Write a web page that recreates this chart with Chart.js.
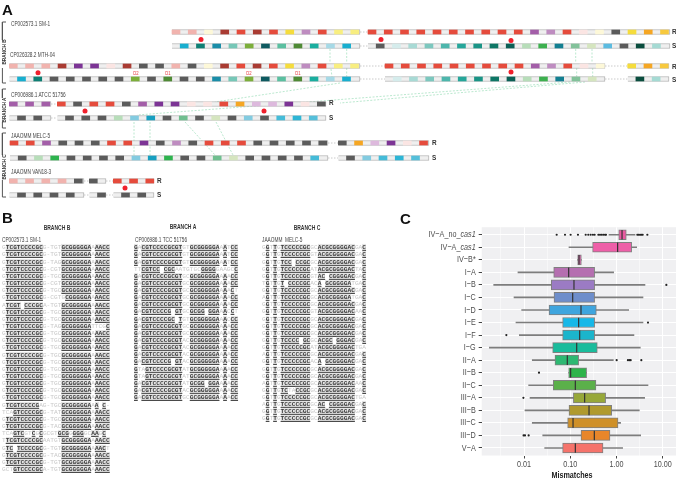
<!DOCTYPE html>
<html>
<head>
<meta charset="utf-8">
<script src="https://cdn.jsdelivr.net/npm/chart.js@4/dist/chart.umd.js"></script>
<style>
  html, body { margin: 0; padding: 0; background: #fff; width: 676px; height: 479px; overflow: hidden; }
  canvas { position: absolute; display: block; }
  #trackChart { left: 0; top: 0; }
  #boxChart { left: 400px; top: 210px; }
  .t { position: absolute; white-space: pre; font-family: "Liberation Sans", sans-serif; color: #333; transform-origin: 0 50%; transform: translateY(-50%); line-height: 1; }
  .panel { font: bold 15px "Liberation Sans", sans-serif; color: #111; }
  .name { font-size: 7px; color: #444; transform: translateY(-50%) scaleX(.68); }
  .rs { font-size: 8px; font-weight: bold; color: #333; transform: translateY(-50%) scaleX(.8); }
  .domain { font-size: 6px; color: #e8343a; transform-origin: 50% 50%; transform: translate(-50%, -50%) scaleX(.7); }
  .branch { font-size: 6.2px; font-weight: bold; color: #333; transform-origin: 50% 50%; transform: translate(-50%, -50%) rotate(-90deg) scaleX(.76); }
  .head { font-size: 6.6px; font-weight: bold; color: #333; transform-origin: 50% 50%; transform: translate(-50%, -50%) scaleX(.76); }
  .seq { font-family: "Liberation Mono", monospace; font-size: 6.2px; color: #c8c8c8; }
  .seq b { color: #3a3a3a; text-decoration: underline; background: #e4e4e4; }
</style>
</head>
<body>
<canvas id="trackChart" width="676" height="205"></canvas>
<canvas id="boxChart" width="276" height="269"></canvas>
<script>
// panel C values
const rowNames = ['IV−A_no_cas1', 'IV−A_cas1', 'IV−B*', 'I−A', 'I−B', 'I−C', 'I−D', 'I−E', 'I−F', 'I−G', 'II−A', 'II−B', 'II−C', 'III−A', 'III−B', 'III−C', 'III−D', 'V−A']
const whiskerLow = [0.69, 0.094, 0.145, 0.0074, 0.00221, 0.00608, 0.0089, 0.0067, 0.00793, 0.00178, 0.0151, 0.0925, 0.0126, 0.0135, 0.0105, 0.0151, 0.0254, 0.028]
const quartile1 = [1.12, 0.305, 0.145, 0.0439, 0.039, 0.0446, 0.0348, 0.0685, 0.0685, 0.0417, 0.0468, 0.0925, 0.043, 0.117, 0.094, 0.0879, 0.171, 0.0685]
const medians = [1.32, 1.06, 0.155, 0.0925, 0.1205, 0.113, 0.171, 0.152, 0.16, 0.138, 0.0865, 0.102, 0.129, 0.205, 0.255, 0.115, 0.332, 0.129]
const quartile3 = [1.63, 2.13, 0.174, 0.337, 0.337, 0.337, 0.367, 0.337, 0.337, 0.385, 0.152, 0.226, 0.36, 0.583, 0.787, 1.08, 0.724, 0.512]
const whiskerHigh = [2.52, 2.74, 0.174, 0.869, 4.14, 3.75, 1.84, 3.75, 2.39, 3.28, 0.855, 0.226, 4.81, 4.07, 3.12, 1.23, 3.34, 1.36]
const outlierRows = [0, 0, 0, 0, 0, 0, 0, 0, 0, 0, 0, 0, 0, 0, 0, 0, 0, 0, 0, 0, 0, 4, 7, 8, 10, 10, 10, 10, 10, 11, 13, 16, 16, 16]
const outlierValues = [0.0509, 0.0771, 0.102, 0.147, 0.216, 0.246, 0.277, 0.31, 0.337, 0.406, 0.441, 0.479, 0.52, 0.565, 0.594, 2.83, 3.02, 3.23, 3.45, 3.69, 4.66, 12, 4.81, 0.00415, 1.01, 1.77, 1.9, 2.03, 3.45, 0.0211, 0.0097, 0.0098, 0.0105, 0.0126]
const majorTicks = [0.01, 0.1, 1, 10]
const minorTicks = [0.00316, 0.0316, 0.316, 3.16]

// panel A values, cells as type codes along each genome track
const smR = ['ppcbrbrylrhh', 'rrrrrrrrrrmlrncdyog']
const smS = ['CTUAGDMKEBC', 'd12345678PLVJWNdZX']
const mthR = ['pppbvvnbddpdcbrbrylrhh', 'rrrrrrrrrmlrnc', 'yog']
const mthS = ['CTdddddGdKddUAGDMKEBC', '12345678PLVJW', 'ZX']
const atccR = ['mmm', 'rdrrdmvvnnroqqvnd']
const atccS = ['dd', 'dddPQFdHdWdQdORS']
const melcR = ['rrmdddrrvdldrrrddddd', 'doqvnr']
const melcS = ['dPYddddQFYddHWddddO', 'dQORS']
const vanR = ['ppppd', 'd', 'rrr']
const vanS = ['dddd', 'd', 'dd']
const smStarts = [172, 368]
const smEnds = [360, 670]
const mthStarts = [9.3, 385, 627.7]
const mthEnds = [360, 605, 669]
const atccStarts = [9.3, 57.3]
const atccEnds = [51, 326]
const melcStarts = [10, 338.3]
const melcEnds = [328, 429]
const vanStarts = [9.3, 89.3, 113.3]
const vanEnds = [84, 106, 154]
const spacerX = [201, 381, 511, 38, 511, 85, 264, 125]
const spacerY = [39.5, 39.5, 40.5, 72.7, 72, 111, 111, 188]
const linkFrom = [[330, 49], [331, 69], [346.7, 49], [346.7, 68], [575.7, 49], [592, 49], [576.7, 68], [592.7, 68], [585, 82], [570, 82], [340, 83], [134, 122], [150, 122], [185, 122], [216, 122]]
const linkTo = [[330, 63], [332, 77], [346.7, 63], [346.7, 78], [575.7, 63], [592, 63], [576.7, 77], [592.7, 77], [340, 103], [137, 115], [215, 102], [134, 156], [150, 156], [215, 155], [233, 155]]

// panel B alignments, upper case marks conserved bases
const branchB = [
  'gTCGTCCCCGCg-tgtGCGGGGGAaAACC', 'gTCGTCCCCGCg-tgtGCGGGGGAaAACC', 'gTCGTCCCCGCg-tagGCGGGGGAaAACC', 'gTCGTCCCCGCg-cgtGCGGGGGAaAACC',
  'gTCGTCCCCGCg-tgcGCGGGGGAaAACC', 'gTCGTCCCCGCg-cgtGCGGGGGAaAACC', 'gTCGTCCCCGCg-tgcGCGGGGGAaAACC', 'gTCGTCCCCGCg-cgtgCGGGGGAaAACC',
  'aTCGT CCCGCa-tgtGCGGGGGAaAACC', 'gTCGTCCCCGCg-tgcGCGGGGGAaAACC', 'gTCGTCCCCGCg-tgcGCGGGGGAaAACC', 'tTCGTCCCCGCg-tagGCGGGGGAttcgC',
  'gTCGTCCCCGCg-tgcGCGGGGGAaAACC', 'gTCGTCCCCGCg-tgcGCGGGGGAaAACC', 'gTCGTCCCCGCg-tgcGCGGGGGAaAACC', 'gTCGTCCCCGCg-tgcGCGGGGGAaAACC',
  'gTCGTCCCCGCg-tgcGCGGGGGAaAACC', 'gTCGTCCCCGCg-tgcGCGGGGGAaAACC', 'gTCGTCCCCGCg-tgcGCGGGGGAaAACC', 'gTCGTCCCCGCg-tgcGCGGGGGAaAACC',
  'gTCGTCCCCGCg-tgcGCGGGGGAaAACC', 'gTCGTCCCCGCg-tgcGCGGGGGAaAACC', 'gTCGTCCCCGag-tgcGCGGGGGAaA C-', 'tcaGTCCCCGCg-tatGCGGGGGAaAACC',
  'gTCGTCCCCGCg-tgcGCGGGGGAaAACC', 'gTCGTCCCCGCg-tacGCGGGGGAaAACC', 'tcaGTCgtCgCgcgtGCGgGGGgcAAgC ', 'tTCGTCCCCGCaatgtGCGGGGGAaAACC',
  'gTC TCCCCGCg-tgtGCGGGGGAaAACt', 'gTCGTCCCCGCg-tacGCGGGGGAaAACC', 'gTCGTCCCCGCg-tgtGCGGGGGAaAACC', 'gctGTCCCCGCa-tgtGCGGGGGAaAACC'
]
const branchA = [
  'GaCGTCCCCGCGTgtGCGGGGGAaAtCC', 'GaCGTCCCCGCGTgtGCGGGGGAaAtCC', 'GaCGTCCCCGCGTgtGCGGGGGAaAtCC', 'ttCGTCC CGCaatgtgcGGGGgaagcC',
  'GaCGTCCCCGCGTgcGCGGGGGAaAaCC', 'GaCGTCCCCGCGTgcGCGGGGGAaAaCC', 'GaCGTCCCCGCGTgcGCGGGGGAaAaCt', 'GaCGTCCCCGCGTgcGCGGGGGAaAaCC',
  'GaCGTCCCCGCGTgcGCGGGGGAaAaCC', 'GaCGTCCCCG GTgcGCGG GGAaAcCt', 'GaCGTCCCCGC TgtGCGGGGGAaAcCC', 'GaCGTCCCCGCGTgcGCGGGGGAaAaCC',
  'GaCGTCCCCGCGTgcGCGGGGGAaAaCC', 'GaCGTCCCCGCGTacGCGGGGGAaAaCC', 'GaCGTCCCCGCGTacGCGGGGGAaAaCC', 'GaCGTCCCCGCGTacGCGGGGGAaAaCC',
  'GaCGTCCCCG GTacGCGGGGGAaAaCC', 'GtaGTCCCCGCGTatGCGGGGGAaAaCC', 'GtaGTCCCCGCGTatGCGGGGGAaAaCC', 'GaCGTCCCCGCGTatGCGG GGAaAaCC',
  'GaCGTCCCCGCGTacGCGGGGGAaAaCC', 'GaCGTCCCCGCGTgcGCGGGGGAaAaCC'
]
const branchC = [
  'gGtTgTCCCCCGCgcACGCGGGGACgaC', 'gGtTgTCCCCCGCgtACGCGGGGACgaC', 'gGtTgTCC CCGCgcACGCGGGGACgaC', 'gGtTgTCCCCCGCatACGCGGGGACtaC',
  'gGtTgTCCCCCGCgtAC CGGGGACgaC', 'tGtTgT CCCCGCacA GCGGGGAtgaC', 'gGtTgTCCCCCGCgcACGCGGGGACgaC', 'aGtTgTCCCCCGCgcACGCGGGGAtgaC',
  'gGtTgTCCCCCGCgcACGCGGGGACgaC', 'gGtTgTCCCCCGCgtACGCGGGGACaaC', 'gGtTgTCCCCCGCgcACGCGGGGACgaC', 'gGtTgTCCCCCGCgcACGCGGGGACgaC',
  'gGtTgTCCCCCGCgcACGCGGGGACgaC', 'gGtTgTCCCC GCgcACGC GGGACgaC', 'gGtTgTCCCCCGCatACGCGGGGACtga', 'aGtTgTCCCCCGCgcACGCGGGGACgaC',
  'gGtTgTCCCCCGCacA GCGGGGACgaC', 'gGtTgTCCCCCGCgcACGCGGGGACgaC', 'gGtTgTCCCCCGCgcACGCGGGGACgaC', 'aGtTgTCCCCCGCgcACGCGGGGACaaC',
  'gGtTgTCtaCCGCgcACGCGGGGACgaC', 'gGtTgTCCCCCGCgcACGCGGGGACtga', 'aGtTgTCCCCCGCgcAC CGGGGACgaC', 'gGtTgTCCCCCGCgcACGCGGGGACgaC',
  'gGtTgTCCCCCGCgcACGCGGGGACgaC'
]

const BOX_COLORS = ['#ea5aa2', '#ee5fa8', '#d96bb0', '#b56fb0', '#9b7bc4', '#6e8ecb', '#3fa5de', '#17b8e8', '#1bb5cc', '#1abc9c', '#2eb872', '#2db34a', '#5bb04a', '#97a83a', '#b09a2e', '#cf9028', '#e8862a', '#f5736b']
const CELL_COLORS = {
  p: '#f1b3ae', c: '#fdf8d8', b: '#a93b32', r: '#e54b3c', y: '#f5dc3c', l: '#be8cc0', h: '#f8ee80', m: '#a35ea8', n: '#fbe5e3', d: '#5b5b5b', o: '#f5a623', g: '#f7c93e', v: '#7c3495', q: '#ddb9dd',
  C: '#18aecf', T: '#0e7f74', U: '#1a8da8', A: '#76c7b7', G: '#7cae3a', D: '#0e5a60', M: '#5bbfa0', K: '#4f8a35', E: '#1aae9f', B: '#a6d9e6',
  1: '#d5ecec', 2: '#a8dad5', 3: '#7cc7be', 4: '#4db6ac', 5: '#26a69a', 6: '#1a9486', 7: '#0e7766', 8: '#0b5f55',
  P: '#b7ddb9', L: '#3db04f', V: '#137f91', J: '#82c29a', W: '#d5e5bf', N: '#5bbbe0', Z: '#0a4d3e', X: '#a5dad3', Q: '#82cbe0', F: '#169fc0', H: '#6fbf8f', O: '#45bbd8', R: '#2db5d5', S: '#55bfda', Y: '#2eb34e'
}
const CELL_PITCH = 16.25
const CELL_WIDTH = 8

const frameBars = []
const gapLines = []
const cellBars = []
const cellColors = []

function addTrack(row, starts, ends, segments, offset) {
  segments.forEach((cells, s) => {
    frameBars.push({ x: [starts[s], ends[s]], y: row })
    if (s > 0) gapLines.push({ x: ends[s - 1], y: row }, { x: starts[s], y: row }, { x: NaN, y: row })
    for (let i = 0; i < cells.length; i++) {
      const x = starts[s] + offset + i * CELL_PITCH
      cellBars.push({ x: [x, x + CELL_WIDTH], y: row })
      cellColors.push(CELL_COLORS[cells[i]])
    }
  })
}

addTrack(32, smStarts, smEnds, smR, 0)
addTrack(46, smStarts, smEnds, smS, 8.2)
addTrack(66, mthStarts, mthEnds, mthR, 0)
addTrack(79, mthStarts, mthEnds, mthS, 8.2)
addTrack(104, atccStarts, atccEnds, atccR, 0)
addTrack(118, atccStarts, atccEnds, atccS, 8.2)
addTrack(143, melcStarts, melcEnds, melcR, 0)
addTrack(158, melcStarts, melcEnds, melcS, 8.2)
addTrack(181, vanStarts, vanEnds, vanR, 0)
addTrack(195, vanStarts, vanEnds, vanS, 8.2)

const linkPoints = []
linkFrom.forEach((p, i) => {
  linkPoints.push({ x: p[0], y: p[1] }, { x: linkTo[i][0], y: linkTo[i][1] }, { x: NaN, y: 0 })
})

// bracket paths next to the branch labels
const bracketPoints = []
;[[22, 40], [68, 83], [89, 98], [122, 128], [133, 155], [180, 197]].forEach((b, i) => {
  const topEnd = i % 2 === 0
  bracketPoints.push(
    { x: 6, y: topEnd ? b[0] : b[1] }, { x: 2.4, y: topEnd ? b[0] : b[1] },
    { x: 2.4, y: topEnd ? b[1] : b[0] }, { x: NaN, y: 0 }
  )
})

new Chart(document.getElementById('trackChart'), {
  type: 'bar',
  data: {
    datasets: [
      { type: 'scatter', indexAxis: 'x', data: linkPoints, showLine: true, spanGaps: false, borderColor: '#a9e2c3', borderWidth: 0.8, borderDash: [2, 1.5], pointRadius: 0, order: 5 },
      { type: 'scatter', indexAxis: 'x', data: gapLines, showLine: true, spanGaps: false, borderColor: '#bdbdbd', borderWidth: 0.8, borderDash: [1.5, 1.5], pointRadius: 0, order: 4 },
      { type: 'scatter', indexAxis: 'x', data: bracketPoints, showLine: true, spanGaps: false, borderColor: '#555', borderWidth: 1, pointRadius: 0, order: 4 },
      { data: frameBars, backgroundColor: '#efefef', borderColor: '#b5b5b5', borderWidth: 1, barThickness: 5, order: 3 },
      { data: cellBars, backgroundColor: cellColors, barThickness: 4, order: 2 },
      { type: 'scatter', indexAxis: 'x', data: spacerX.map((x, i) => ({ x, y: spacerY[i] })), backgroundColor: '#f0202c', borderWidth: 0, pointRadius: 2.5, order: 1 },
    ],
  },
  options: {
    indexAxis: 'y',
    responsive: false,
    animation: false,
    grouped: false,
    layout: { padding: 0, autoPadding: false },
    plugins: { legend: { display: false }, tooltip: { enabled: false } },
    scales: {
      x: { type: 'linear', min: 0, max: 676, display: false },
      y: { type: 'linear', min: 0, max: 205, reverse: true, display: false, offset: false },
    },
  },
})

const plotBackground = {
  id: 'plotBackground',
  beforeDraw(chart) {
    const { ctx, chartArea: a } = chart
    ctx.save()
    ctx.fillStyle = '#f0f0f2'
    ctx.fillRect(a.left, a.top, a.right - a.left, a.bottom - a.top)
    ctx.restore()
  },
}

// no narrow font here, so axis text is drawn squeezed
function narrowText(ctx, text, x, y, font, squeeze) {
  ctx.save()
  ctx.translate(x, y)
  ctx.scale(squeeze, 1)
  ctx.font = font
  ctx.fillText(text, 0, 0)
  ctx.restore()
}

const axisText = {
  id: 'axisText',
  afterDraw(chart) {
    const { ctx, scales } = chart
    const plain = '9.4px "Liberation Sans", sans-serif'
    const italic = 'italic 9.4px "Liberation Sans", sans-serif'
    const squeeze = 0.77
    const right = scales.y.right - 6
    ctx.save()
    ctx.fillStyle = '#4d4d4d'
    ctx.textBaseline = 'middle'
    ctx.textAlign = 'left'
    rowNames.forEach((name, row) => {
      const y = scales.y.getPixelForValue(row)
      const cut = name.indexOf('cas1')
      const head = cut < 0 ? name : name.slice(0, cut)
      ctx.font = plain
      const headW = ctx.measureText(head).width * squeeze
      ctx.font = italic
      const tailW = cut < 0 ? 0 : ctx.measureText('cas1').width * squeeze
      narrowText(ctx, head, right - headW - tailW, y, plain, squeeze)
      if (cut >= 0) narrowText(ctx, 'cas1', right - tailW, y, italic, squeeze)
    })
    ctx.textAlign = 'center'
    majorTicks.forEach((v) => {
      narrowText(ctx, v.toFixed(2), scales.x.getPixelForValue(v), 254, plain, squeeze)
    })
    ctx.fillStyle = '#222'
    narrowText(ctx, 'Mismatches', 172, 265, 'bold 9.6px "Liberation Sans", sans-serif', 0.75)
    ctx.restore()
  },
}

new Chart(document.getElementById('boxChart'), {
  type: 'bar',
  data: {
    datasets: [
      {
        label: 'whisker',
        data: rowNames.map((_, i) => ({ x: [whiskerLow[i], whiskerHigh[i]], y: i })),
        backgroundColor: '#7d7d7d',
        barThickness: 1,
        order: 4,
      },
      {
        label: 'box',
        data: rowNames.map((_, i) => ({ x: [quartile1[i], quartile3[i]], y: i })),
        backgroundColor: BOX_COLORS,
        borderColor: '#7f7f7f',
        borderWidth: 1,
        borderSkipped: false,
        barThickness: 10,
        order: 3,
      },
      {
        type: 'scatter',
        indexAxis: 'x',
        label: 'median',
        data: rowNames.map((_, i) => ({ x: medians[i], y: i })),
        pointStyle: 'line',
        rotation: 90,
        pointRadius: 4.8,
        borderColor: '#333',
        pointBorderWidth: 1.2,
        order: 2,
      },
      {
        type: 'scatter',
        indexAxis: 'x',
        label: 'outlier',
        data: outlierValues.map((x, i) => ({ x, y: outlierRows[i] })),
        backgroundColor: '#222',
        borderWidth: 0,
        pointRadius: 1.1,
        order: 1,
      },
    ],
  },
  plugins: [plotBackground, axisText],
  options: {
    indexAxis: 'y',
    responsive: false,
    animation: false,
    grouped: false,
    layout: { padding: { top: 17.2, left: 0, right: 0, bottom: 0 }, autoPadding: false },
    plugins: { legend: { display: false }, tooltip: { enabled: false } },
    scales: {
      x: {
        type: 'logarithmic',
        min: 0.001216,
        max: 19.41,
        afterBuildTicks: (axis) => {
          axis.ticks = minorTicks.concat(majorTicks).sort((a, b) => a - b).map((value) => ({ value }))
        },
        afterFit: (axis) => { axis.height = 23.5 },
        border: { display: false },
        grid: {
          color: '#ffffff',
          lineWidth: (c) => (c.tick && majorTicks.includes(c.tick.value) ? 1 : 0.5),
          tickColor: (c) => (c.tick && majorTicks.includes(c.tick.value) ? '#444' : 'rgba(0,0,0,0)'),
          tickLength: 3,
        },
        ticks: { autoSkip: false, maxRotation: 0, callback: () => '' },
      },
      y: {
        type: 'linear',
        min: -0.6,
        max: 17.6,
        reverse: true,
        offset: false,
        afterBuildTicks: (axis) => {
          axis.ticks = rowNames.map((_, value) => ({ value }))
        },
        afterFit: (axis) => { axis.width = 81.7 },
        border: { display: false },
        grid: { offset: false, color: '#ffffff', lineWidth: 1, tickColor: '#444', tickLength: 3 },
        ticks: { autoSkip: false, callback: () => '' },
      },
    },
  },
})

// html text for panels A and B
function addText(text, x, y, cls) {
  const el = document.createElement('div')
  el.className = 't ' + cls
  el.textContent = text
  el.style.left = x + 'px'
  el.style.top = y + 'px'
  document.body.appendChild(el)
}

function addAlignment(rows, x, y0, step) {
  rows.forEach((row, i) => {
    const el = document.createElement('div')
    el.className = 't seq'
    el.style.left = x + 'px'
    el.style.top = (y0 + i * step) + 'px'
    el.innerHTML = row.replace(/[A-Z]+/g, (m) => '<b>' + m + '</b>').toUpperCase().replace(/<B>/g, '<b>').replace(/<\/B>/g, '</b>')
    document.body.appendChild(el)
  })
}

addText('A', 2, 9, 'panel')
addText('B', 2, 217, 'panel')
addText('C', 400, 218, 'panel')
addText('CP002573.1 SM-1', 10.7, 22.6, 'name')
addText('CP026328.2 MTH-04', 10, 53.5, 'name')
addText('CP006986.1 ATCC 51756', 10.7, 93.5, 'name')
addText('JAAOMM MELC-5', 10.7, 134.5, 'name')
addText('JAAOMN VAN18-3', 10.7, 171, 'name')
addText('BRANCH B', 3.8, 52, 'branch')
addText('BRANCH A', 3.8, 110, 'branch')
addText('BRANCH C', 3.8, 167, 'branch')
;[['R', 671.5, 32], ['S', 671.5, 46], ['R', 671.5, 67], ['S', 671.5, 80], ['R', 329, 103], ['S', 329, 118], ['R', 431.7, 143], ['S', 431.7, 158], ['R', 157.3, 181], ['S', 157.3, 195]].forEach(([t, x, y]) => addText(t, x, y, 'rs'))
;[['D2', 136], ['D1', 167.7], ['D2', 249], ['D1', 298]].forEach(([t, x]) => addText(t, x, 72.7, 'domain'))

addText('BRANCH B', 57, 228, 'head')
addText('BRANCH A', 183, 227.3, 'head')
addText('BRANCH C', 307, 227.7, 'head')
addText('CP002573.1 SM-1', 2, 238.5, 'name')
addText('CP006986.1 TCC 51756', 135, 238.7, 'name')
addText('JAAOMM  MELC-5', 262, 238.7, 'name')
addAlignment(branchB, 2, 248.3, 7.15)
addAlignment(branchA, 134, 248.3, 7.13)
addAlignment(branchC, 262, 248.3, 7.13)
</script>
</body>
</html>
